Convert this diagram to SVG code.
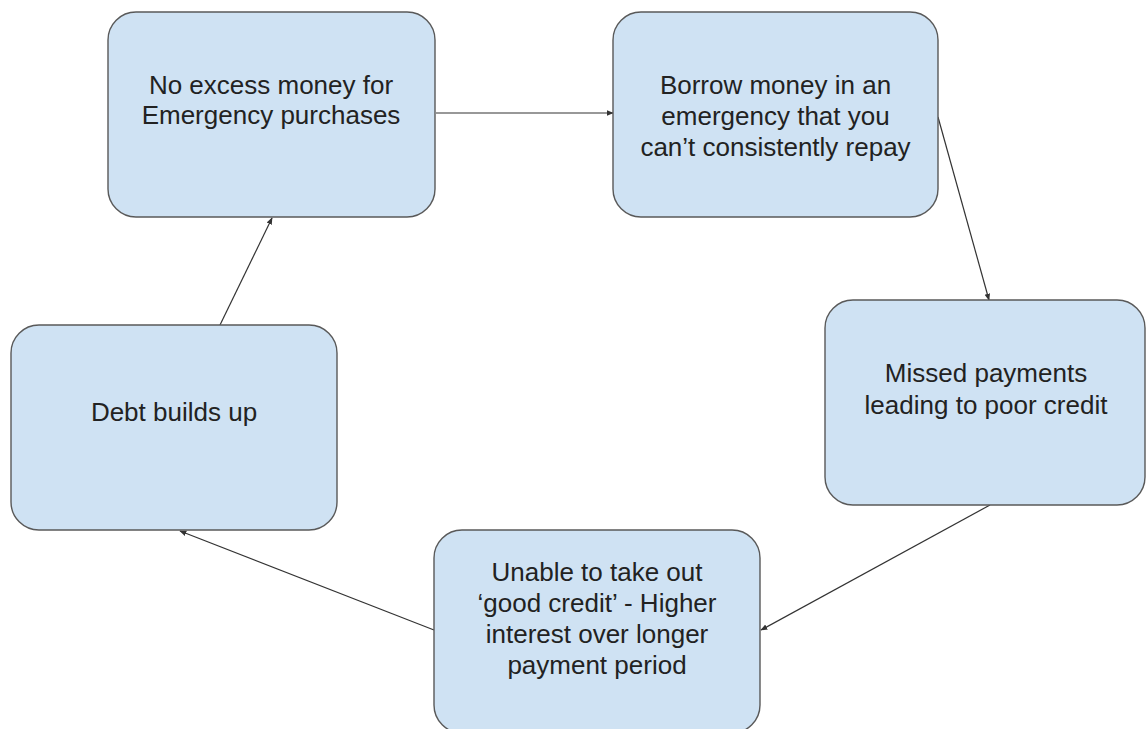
<svg xmlns="http://www.w3.org/2000/svg" width="1146" height="729" viewBox="0 0 1146 729">
  <style>
    .box { fill: #cfe2f3; stroke: #595959; stroke-width: 1.4; }
    .label { font-family: "Liberation Sans", Arial, sans-serif; font-size: 26px; fill: #222222; text-anchor: middle; }
    .link { fill: none; stroke: #333333; stroke-width: 1.2; marker-end: url(#head); }
  </style>
  <defs>
    <marker id="head" viewBox="0 0 10 10" refX="9" refY="5" markerWidth="7" markerHeight="7" markerUnits="userSpaceOnUse" orient="auto">
      <path d="M0,1 L10,5 L0,9 Z" fill="#333333"/>
    </marker>
  </defs>
  <rect width="1146" height="729" fill="#ffffff"/>

  <!-- cycle connectors -->
  <g id="connectors">
    <line class="link" x1="436" y1="113" x2="613" y2="113"/>
    <line class="link" x1="938" y1="117" x2="989" y2="300"/>
    <line class="link" x1="990" y1="505" x2="761" y2="630"/>
    <line class="link" x1="434" y1="630" x2="180" y2="531"/>
    <line class="link" x1="220" y1="325" x2="272" y2="218"/>
  </g>

  <g id="no-excess-money">
    <rect class="box" x="108" y="12" width="327" height="205" rx="28" ry="28"/>
    <text class="label" x="271" y="94">No excess money for</text>
    <text class="label" x="271" y="124">Emergency purchases</text>
  </g>

  <g id="borrow-money">
    <rect class="box" x="613" y="12" width="325" height="205" rx="28" ry="28"/>
    <text class="label" x="775.5" y="94">Borrow money in an</text>
    <text class="label" x="775.5" y="125">emergency that you</text>
    <text class="label" x="775.5" y="156">can’t consistently repay</text>
  </g>

  <g id="missed-payments">
    <rect class="box" x="825" y="300" width="320" height="205" rx="28" ry="28"/>
    <text class="label" x="986" y="382">Missed payments</text>
    <text class="label" x="986" y="414">leading to poor credit</text>
  </g>

  <g id="unable-good-credit">
    <rect class="box" x="434" y="530" width="326" height="203" rx="28" ry="28"/>
    <text class="label" x="597" y="581">Unable to take out</text>
    <text class="label" x="597" y="612">‘good credit’ - Higher</text>
    <text class="label" x="597" y="643">interest over longer</text>
    <text class="label" x="597" y="674">payment period</text>
  </g>

  <g id="debt-builds-up">
    <rect class="box" x="11" y="325" width="326" height="205" rx="28" ry="28"/>
    <text class="label" x="174" y="421">Debt builds up</text>
  </g>
</svg>
